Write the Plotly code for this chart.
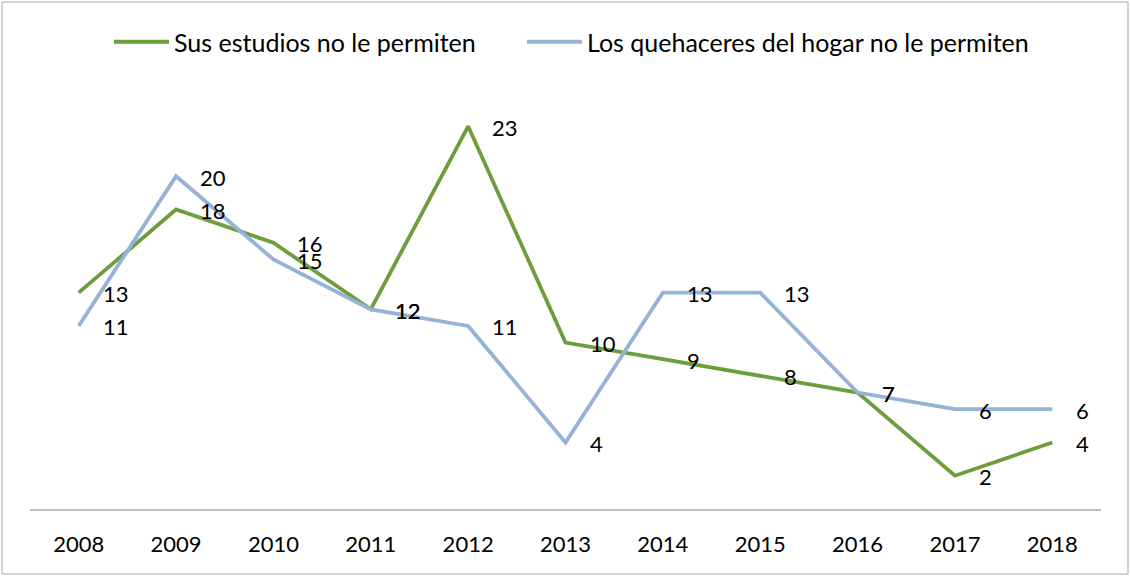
import plotly.graph_objects as go

years = ["2008", "2009", "2010", "2011", "2012", "2013", "2014", "2015", "2016", "2017", "2018"]
estudios = [13, 18, 16, 12, 23, 10, 9, 8, 7, 2, 4]
quehaceres = [11, 20, 15, 12, 11, 4, 13, 13, 7, 6, 6]

green = "#6E9D3D"
blue = "#95B3D7"
font_name = "Lato"

W, H = 1131, 577
ml, mr, mt, mb = 30, 30, 93, 68
pw, ph = W - ml - mr, H - mt - mb

fig = go.Figure()

fig.add_trace(go.Scatter(
    x=years, y=estudios,
    mode="lines",
    line=dict(color=green, width=3.8),
    name="Sus estudios no le permiten",
    legend="legend",
))

fig.add_trace(go.Scatter(
    x=years, y=quehaceres,
    mode="lines",
    line=dict(color=blue, width=3.8),
    name="Los quehaceres del hogar no le permiten",
    legend="legend2",
))

# etiquetas de datos a la derecha de cada punto (x por índice de categoría)
for serie in (estudios, quehaceres):
    for i, v in enumerate(serie):
        fig.add_annotation(
            x=i, y=v, text=str(v),
            showarrow=False, xanchor="left", yanchor="middle",
            xshift=22, yshift=-1,
            font=dict(family=font_name, size=22, color="black"),
        )

# borde del gráfico
fig.add_shape(
    type="rect", xref="paper", yref="paper",
    x0=(2 - ml) / pw, x1=(W - 3 - ml) / pw,
    y0=-(mb - 3) / ph, y1=1 + (mt - 2) / ph,
    line=dict(color="#A6A6A6", width=1),
)

leg_common = dict(
    orientation="h", xanchor="left", y=1 + 51 / ph, yanchor="middle",
    font=dict(family=font_name, size=25, color="black"),
    itemwidth=55, bgcolor="rgba(0,0,0,0)",
)

fig.update_layout(
    width=W, height=H,
    margin=dict(l=ml, r=mr, t=mt, b=mb),
    plot_bgcolor="white",
    paper_bgcolor="white",
    font=dict(family=font_name, size=22, color="black"),
    showlegend=True,
    legend=dict(x=(112 - 3 - ml) / pw, **leg_common),
    legend2=dict(x=(525 - 3 - ml) / pw, **leg_common),
    xaxis=dict(
        type="category",
        range=[-0.5, 10.5],
        showgrid=False,
        showline=True, linecolor="#BFBFBF", linewidth=1.5,
        ticks="", ticklabelstandoff=15,
        tickfont=dict(family=font_name, size=22, color="black"),
    ),
    yaxis=dict(
        range=[0, 25],
        showgrid=False, zeroline=False,
        showticklabels=False, showline=False,
    ),
)

fig.write_html("out.html", config={"displayModeBar": False},
               post_script="document.body.style.margin='0';")
